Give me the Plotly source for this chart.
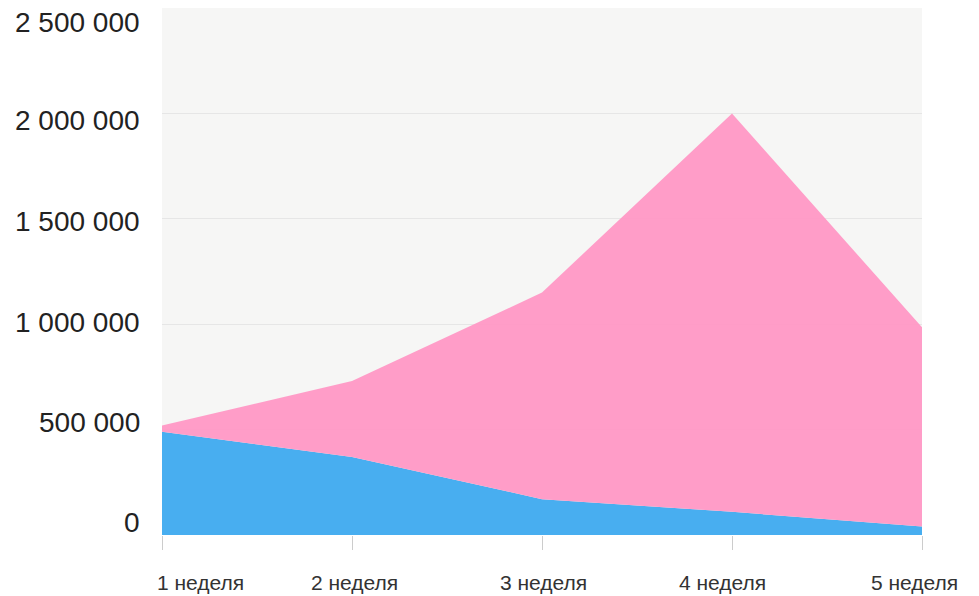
import plotly.graph_objects as go

weeks = ["1 неделя", "2 неделя", "3 неделя", "4 неделя", "5 неделя"]
blue_values = [490000, 370000, 170000, 110000, 40000]
pink_values = [30000, 360000, 980000, 1890000, 945000]
y_tick_values = [0, 500000, 1000000, 1500000, 2000000, 2500000]
y_tick_labels = ["0", "500 000", "1 000 000", "1 500 000", "2 000 000", "2 500 000"]

# label nudges (pixels) to mimic the reference placement
x_label_shift = [38, 2, 1, -10, -8]
y_label_shift = [13, 7, 2, -3, -7, -14]

xs = list(range(len(weeks)))

fig = go.Figure()
fig.add_trace(go.Scatter(
    x=xs, y=blue_values, mode="lines", stackgroup="one",
    line=dict(width=0, color="#48aef0"), fillcolor="#48aef0",
    name="blue", hoverinfo="skip"))
fig.add_trace(go.Scatter(
    x=xs, y=pink_values, mode="lines", stackgroup="one",
    line=dict(width=0, color="rgba(255,153,198,0.96)"), fillcolor="rgba(255,153,198,0.96)",
    name="pink", hoverinfo="skip"))

font_family = "Liberation Sans, Arial, sans-serif"

for i, (w, dx) in enumerate(zip(weeks, x_label_shift)):
    fig.add_annotation(x=xs[i], y=0, xref="x", yref="paper", text=w,
                       showarrow=False, xanchor="center", yanchor="middle",
                       xshift=dx, yshift=-47,
                       font=dict(family=font_family, size=21, color="#333333"))

for v, t, dy in zip(y_tick_values, y_tick_labels, y_label_shift):
    fig.add_annotation(x=0, y=v, xref="paper", yref="y", text=t,
                       showarrow=False, xanchor="right", yanchor="middle",
                       xshift=-20, yshift=dy,
                       font=dict(family=font_family, size=28, color="#222222"))

fig.update_layout(
    width=979, height=596,
    margin=dict(l=162, r=57, t=8, b=61),
    paper_bgcolor="white", plot_bgcolor="#f6f6f5",
    showlegend=False,
    font=dict(family=font_family),
    xaxis=dict(range=[0, 4], tickvals=xs, showticklabels=False,
               ticks="outside", ticklen=14, tickcolor="#cccccc", tickwidth=1,
               showgrid=False, zeroline=False, showline=False, fixedrange=True),
    yaxis=dict(range=[0, 2500000], tickvals=y_tick_values, showticklabels=False,
               showgrid=True, gridcolor="#e6e6e6", gridwidth=1,
               zeroline=False, showline=False, ticks="", fixedrange=True),
)

fig.write_html("out.html")
